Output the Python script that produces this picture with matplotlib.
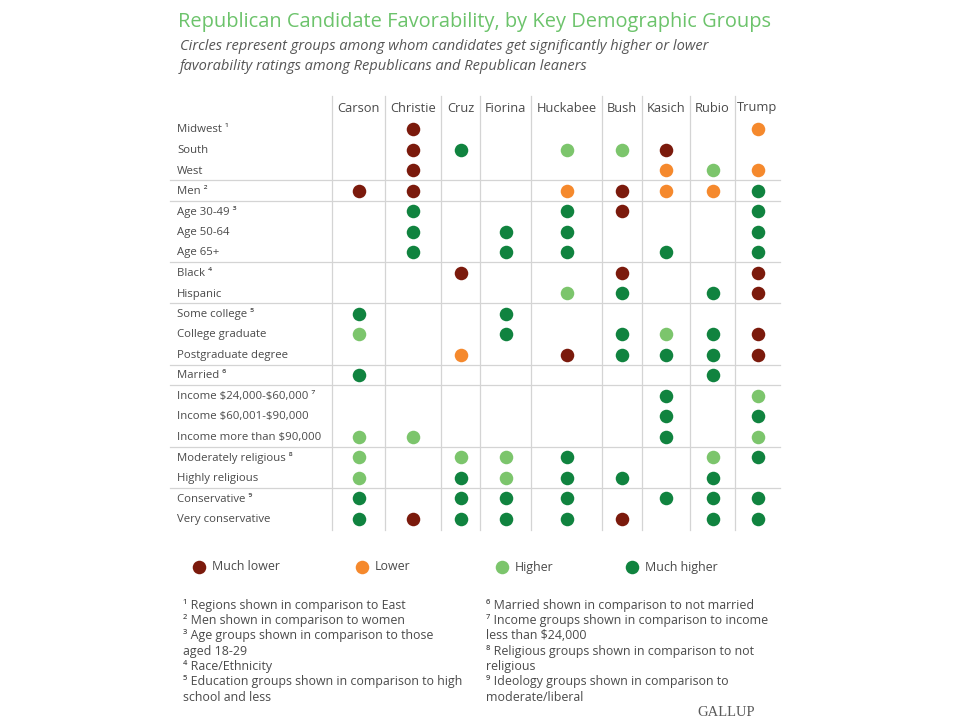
import matplotlib.pyplot as plt

# Categorías: 0 = sin círculo, 1 = mucho menor, 2 = menor, 3 = mayor, 4 = mucho mayor
candidates = ['Carson', 'Christie', 'Cruz', 'Fiorina', 'Huckabee', 'Bush', 'Kasich', 'Rubio', 'Trump']
groups = ['Midwest \u00b9', 'South', 'West', 'Men \u00b2', 'Age 30-49 \u00b3', 'Age 50-64', 'Age 65+',
          'Black \u2074', 'Hispanic', 'Some college \u2075', 'College graduate', 'Postgraduate degree',
          'Married \u2076', 'Income $24,000-$60,000 \u2077', 'Income $60,001-$90,000',
          'Income more than $90,000', 'Moderately religious \u2078', 'Highly religious',
          'Conservative \u2079', 'Very conservative']

ratings = [
    [0, 1, 0, 0, 0, 0, 0, 0, 2],
    [0, 1, 4, 0, 3, 3, 1, 0, 0],
    [0, 1, 0, 0, 0, 0, 2, 3, 2],
    [1, 1, 0, 0, 2, 1, 2, 2, 4],
    [0, 4, 0, 0, 4, 1, 0, 0, 4],
    [0, 4, 0, 4, 4, 0, 0, 0, 4],
    [0, 4, 0, 4, 4, 0, 4, 0, 4],
    [0, 0, 1, 0, 0, 1, 0, 0, 1],
    [0, 0, 0, 0, 3, 4, 0, 4, 1],
    [4, 0, 0, 4, 0, 0, 0, 0, 0],
    [3, 0, 0, 4, 0, 4, 3, 4, 1],
    [0, 0, 2, 0, 1, 4, 4, 4, 1],
    [4, 0, 0, 0, 0, 0, 0, 4, 0],
    [0, 0, 0, 0, 0, 0, 4, 0, 3],
    [0, 0, 0, 0, 0, 0, 4, 0, 4],
    [3, 3, 0, 0, 0, 0, 4, 0, 3],
    [3, 0, 3, 3, 4, 0, 0, 3, 4],
    [3, 0, 4, 3, 4, 4, 0, 4, 0],
    [4, 0, 4, 4, 4, 0, 4, 4, 4],
    [4, 1, 4, 4, 4, 1, 0, 4, 4],
]

legend_labels = ['Much lower', 'Lower', 'Higher', 'Much higher']
colors = {1: '#7b1a0c', 2: '#f5892d', 3: '#7cc56c', 4: '#10833f'}

footnotes_left = ['\u00b9 Regions shown in comparison to East',
                  '\u00b2 Men shown in comparison to women',
                  '\u00b3 Age groups shown in comparison to those',
                  'aged 18-29',
                  '\u2074 Race/Ethnicity',
                  '\u2075 Education groups shown in comparison to high',
                  'school and less']
footnotes_right = ['\u2076 Married shown in comparison to not married',
                   '\u2077 Income groups shown in comparison to income',
                   'less than $24,000',
                   '\u2078 Religious groups shown in comparison to not',
                   'religious',
                   '\u2079 Ideology groups shown in comparison to',
                   'moderate/liberal']

# separadores después de estas filas
breaks = [2, 3, 6, 8, 11, 12, 15, 17]

plt.rcParams['font.family'] = ['Open Sans', 'DejaVu Sans']

fig = plt.figure(figsize=(9.6, 7.2), dpi=100)
ax = fig.add_axes([0, 0, 1, 1])
ax.set_xlim(0, 960)
ax.set_ylim(720, 0)
ax.axis('off')

txt = '#4a4a4a'
grid = '#d4d4d4'

# límites de columna en píxeles
edges = [332, 385, 441, 480, 531, 602, 642, 690, 735, 780]
centers = [(edges[i] + edges[i + 1]) / 2 for i in range(len(candidates))]
row_top, step = 129, 20.5
rows_y = [row_top + i * step for i in range(len(groups))]

# título
ax.text(178, 22, 'Republican Candidate Favorability, by Key Demographic Groups',
        fontsize=14.4, color='#6cc36b', va='center', ha='left')
ax.text(180, 47, 'Circles represent groups among whom candidates get significantly higher or lower',
        fontsize=10.5, color='#555555', style='italic', va='center')
ax.text(180, 66, 'favorability ratings among Republicans and Republican leaners',
        fontsize=10.5, color='#555555', style='italic', va='center')

# líneas verticales
for x in edges[:-1]:
    ax.plot([x, x], [96, 530], color=grid, lw=0.9, zorder=1)

# líneas horizontales
for b in breaks:
    y = (rows_y[b] + rows_y[b + 1]) / 2
    ax.plot([170, 780], [y, y], color=grid, lw=0.9, zorder=1)

# encabezados
for c, name in zip(centers, candidates):
    ax.text(c, 111.5, name, ha='center', va='baseline', fontsize=9.3, color=txt)

# etiquetas de filas
for y, g in zip(rows_y, groups):
    ax.text(177, y + 3.5, g, ha='left', va='baseline', fontsize=8.2, color=txt,
            parse_math=False)

# círculos
for i, row in enumerate(ratings):
    for j, v in enumerate(row):
        if v:
            ax.scatter(centers[j], rows_y[i], s=95, color=colors[v], zorder=3, linewidths=0)

# leyenda
leg_x = [199, 362, 502, 632]
for k, (lx, lab) in enumerate(zip(leg_x, legend_labels)):
    ax.scatter(lx, 567, s=95, color=colors[k + 1], linewidths=0, zorder=3)
    ax.text(lx + 13, 567, lab, ha='left', va='center', fontsize=8.9, color=txt)

# notas
for i, line in enumerate(footnotes_left):
    ax.text(183, 605 + i * 15.4, line, ha='left', va='center', fontsize=8.9, color=txt,
            parse_math=False)
for i, line in enumerate(footnotes_right):
    ax.text(486, 605 + i * 15.4, line, ha='left', va='center', fontsize=8.9, color=txt,
            parse_math=False)

ax.text(726, 719, 'GALLUP', ha='center', va='bottom', fontsize=10.5, color='#5a5a5a',
        family='Liberation Serif')

fig.savefig('out.png', dpi=100, facecolor='white')
